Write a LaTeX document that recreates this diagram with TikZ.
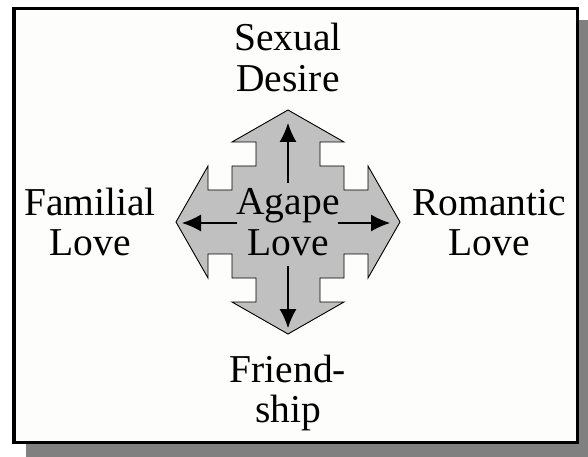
\documentclass[tikz,border=0pt]{standalone}
\usepackage{fontspec}
\setmainfont{Liberation Serif}
\usetikzlibrary{arrows.meta}
\definecolor{shadowgray}{RGB}{128,128,128}
\definecolor{paper}{RGB}{253,253,251}
\definecolor{quadfill}{RGB}{192,192,192}
\begin{document}
\begin{tikzpicture}[x=1bp,y=-1bp,
  lbl/.style={anchor=base,inner sep=0pt,font=\fontsize{39.5bp}{41bp}\selectfont},
  ptr/.style={line width=1.3bp,-{Latex[length=19bp,width=17bp]}},
  quad/.style={fill=quadfill,draw=black,line width=0.9bp,line join=miter}]
\useasboundingbox (0,0) rectangle (588,457);
\fill[white] (0,0) rectangle (588,457);
% shadow and frame
\fill[shadowgray] (26,20) rectangle (588,457);
\fill[paper] (12,7) rectangle (579,444);
\draw[line width=3.5bp] (13.75,8.75) rectangle (577.25,442.25);
% quad arrow shape
\draw[quad] (288,110) -- (232,142) -- (256,142) -- (256,166) -- (232,166) -- (232,190)
  -- (208,190) -- (208,166) -- (176,222) -- (208,278) -- (208,254) -- (232,254)
  -- (232,278) -- (256,278) -- (256,302) -- (232,302) -- (288,334) -- (344,302)
  -- (320,302) -- (320,278) -- (344,278) -- (344,254) -- (368,254) -- (368,278)
  -- (400,222) -- (368,166) -- (368,190) -- (344,190) -- (344,166) -- (320,166)
  -- (320,142) -- (344,142) -- cycle;
% labels
\node[lbl] (sex1) at (288,51) {Sexual};
\node[lbl] (sex2) at (288,92) {Desire};
\node[lbl] (fri1) at (288,382) {Friend-};
\node[lbl] (fri2) at (288,422) {ship};
\node[lbl] (fam1) at (90,216) {Familial};
\node[lbl] (fam2) at (90,256) {Love};
\node[lbl] (rom1) at (489,216) {Romantic};
\node[lbl] (rom2) at (489,256) {Love};
\node[lbl] (aga1) at (288,215) {Agape};
\node[lbl] (aga2) at (288,256) {Love};
% arrows
\coordinate (upS) at (288,183);
\coordinate (upE) at (288,123);
\coordinate (dnS) at (288,266);
\coordinate (dnE) at (288,328);
\coordinate (lfS) at (237,223);
\coordinate (lfE) at (182,223);
\coordinate (rtS) at (338,223);
\coordinate (rtE) at (390,223);
\draw[ptr] (upS) -- (upE);
\draw[ptr] (dnS) -- (dnE);
\draw[ptr] (lfS) -- (lfE);
\draw[ptr] (rtS) -- (rtE);
\end{tikzpicture}
\end{document}
